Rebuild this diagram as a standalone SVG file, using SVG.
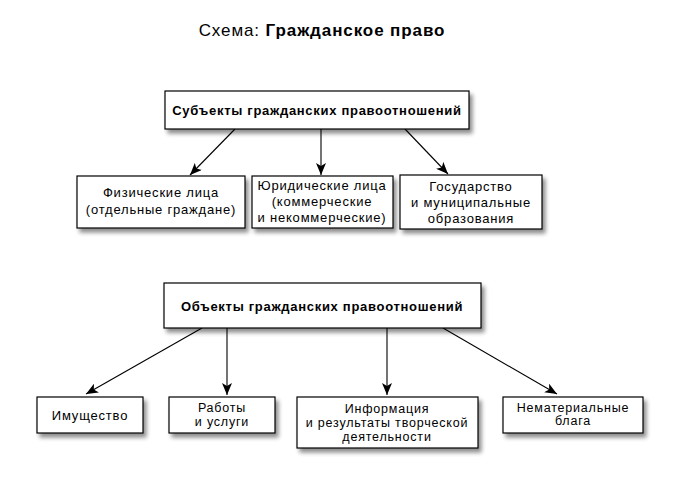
<svg xmlns="http://www.w3.org/2000/svg" width="678" height="487" viewBox="0 0 678 487">
<style>
.box{fill:#fff;stroke:#000;stroke-width:1.2}
.t{font-family:"Liberation Sans",Arial,sans-serif;font-size:13px;fill:#000;text-anchor:middle;letter-spacing:0.8px}
.s{font-size:12.5px}
.b{font-weight:bold;letter-spacing:0.7px}
.c{stroke:#000;stroke-width:1.1;fill:none;marker-end:url(#ah)}
</style>
<defs>
<filter id="sh" x="-10%" y="-20%" width="130%" height="160%">
<feGaussianBlur in="SourceAlpha" stdDeviation="2"/>
<feOffset dx="3" dy="4" result="o"/>
<feComponentTransfer><feFuncA type="linear" slope="0.45"/></feComponentTransfer>
<feMerge><feMergeNode/><feMergeNode in="SourceGraphic"/></feMerge>
</filter>
<marker id="ah" viewBox="0 0 12 10" markerWidth="12" markerHeight="10" refX="12" refY="5" orient="auto" markerUnits="userSpaceOnUse">
<path d="M0,0 L12,5 L0,10 L3,5 z" fill="#000"/>
</marker>
</defs>
<rect width="678" height="487" fill="#fff"/>
<text x="322" y="36" class="t" style="font-size:17px;letter-spacing:0.9px">Схема: <tspan class="b" style="letter-spacing:0.9px">Гражданское право</tspan></text>

<g id="connectors">
<line class="c" x1="235" y1="129" x2="190" y2="175"/>
<line class="c" x1="321" y1="129" x2="321" y2="175"/>
<line class="c" x1="405" y1="129" x2="448" y2="174"/>
<line class="c" x1="202" y1="328" x2="86" y2="394"/>
<line class="c" x1="227" y1="328" x2="227" y2="395"/>
<line class="c" x1="387" y1="328" x2="387" y2="395"/>
<line class="c" x1="443" y1="328" x2="557" y2="394"/>
</g>

<g id="subjects">
<rect class="box" filter="url(#sh)" x="165" y="91" width="304" height="38"/>
<text class="t b" x="317" y="115">Субъекты гражданских правоотношений</text>
</g>
<g id="phys">
<rect class="box" filter="url(#sh)" x="77" y="176" width="168" height="52"/>
<text class="t" x="161" y="197">Физические лица</text>
<text class="t" x="161" y="214">(отдельные граждане)</text>
</g>
<g id="legal">
<rect class="box" filter="url(#sh)" x="252" y="176" width="141" height="52"/>
<text class="t" x="322" y="190">Юридические лица</text>
<text class="t" x="322" y="206">(коммерческие</text>
<text class="t" x="322" y="222">и некоммерческие)</text>
</g>
<g id="state">
<rect class="box" filter="url(#sh)" x="400" y="175" width="142" height="54"/>
<text class="t" x="471" y="191">Государство</text>
<text class="t" x="471" y="207">и муниципальные</text>
<text class="t" x="471" y="223">образования</text>
</g>

<g id="objects">
<rect class="box" filter="url(#sh)" x="164" y="283" width="317" height="45"/>
<text class="t b" x="322" y="311">Объекты гражданских правоотношений</text>
</g>
<g id="property">
<rect class="box" filter="url(#sh)" x="37" y="397" width="106" height="36"/>
<text class="t" x="90" y="420">Имущество</text>
</g>
<g id="works">
<rect class="box" filter="url(#sh)" x="169" y="397" width="106" height="36"/>
<text class="t s" x="222" y="412">Работы</text>
<text class="t s" x="222" y="426">и услуги</text>
</g>
<g id="info">
<rect class="box" filter="url(#sh)" x="297" y="397" width="181" height="51"/>
<text class="t s" x="387" y="413">Информация</text>
<text class="t s" x="387" y="427">и результаты творческой</text>
<text class="t s" x="387" y="441">деятельности</text>
</g>
<g id="intangible">
<rect class="box" filter="url(#sh)" x="503" y="397" width="140" height="36"/>
<text class="t s" x="573" y="412">Нематериальные</text>
<text class="t s" x="573" y="425">блага</text>
</g>
</svg>
